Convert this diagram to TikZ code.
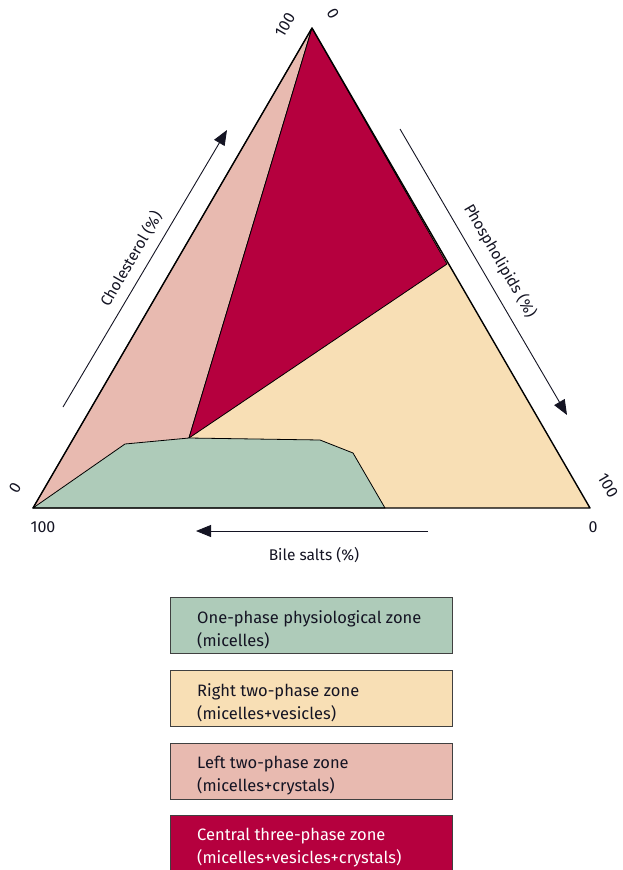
\documentclass[tikz,border=0pt]{standalone}
\usepackage{fontspec}
\setmainfont{Fira Sans}
\usetikzlibrary{arrows.meta}
\definecolor{zonegreen}{RGB}{174,203,185}
\definecolor{zonebeige}{RGB}{248,223,181}
\definecolor{zonepink}{RGB}{232,186,176}
\definecolor{zonered}{RGB}{181,0,62}
\definecolor{ink}{RGB}{20,20,35}
\begin{document}
\begin{tikzpicture}[x=1pt,y=-1pt,
  zone/.style={draw=black, line width=0.8pt, line join=round},
  axisarrow/.style={draw=ink, line width=0.9pt, -{Triangle[length=15pt,width=12pt]}},
  ticklabel/.style={font=\fontsize{16}{18}\selectfont, text=ink, inner sep=0pt},
  axislabel/.style={font=\fontsize{15.5}{18}\selectfont, text=ink, inner sep=0pt},
  legendbox/.style={draw=black!75, line width=0.8pt, anchor=north west,
    minimum width=282pt, minimum height=56pt, inner sep=0pt},
  legendtext/.style={anchor=west, align=left, inner sep=0pt,
    font=\fontsize{16.5}{23}\selectfont, text=ink}]
  \useasboundingbox (0,0) rectangle (623,870);

  % corners of the ternary diagram and the zone boundary points
  \coordinate (apex) at (312,28);
  \coordinate (bl) at (33,508);
  \coordinate (br) at (590,508);
  \coordinate (meet) at (189,438);
  \coordinate (edge) at (447,264);
  \coordinate (g1) at (125,444);
  \coordinate (g2) at (320,440);
  \coordinate (g3) at (353,453);
  \coordinate (g4) at (385,508);

  % zones
  \fill[zonebeige] (bl) -- (apex) -- (br) -- cycle;
  \path[zone, fill=zonepink] (bl) -- (apex) -- (meet) -- cycle;
  \path[zone, fill=zonered] (apex) -- (edge) -- (meet) -- cycle;
  \path[zone, fill=zonegreen] (bl) -- (g1) -- (meet) -- (g2) -- (g3) -- (g4) -- cycle;
  \draw[black, line width=1.4pt, line join=round] (bl) -- (apex) -- (br) -- cycle;

  % axis arrows
  \coordinate (chA) at (63,407);
  \coordinate (chB) at (227,130);
  \coordinate (phA) at (400,129);
  \coordinate (phB) at (567,415);
  \coordinate (bsA) at (428,531);
  \coordinate (bsB) at (196,531);
  \draw[axisarrow] (chA) -- (chB);
  \draw[axisarrow] (phA) -- (phB);
  \draw[axisarrow] (bsA) -- (bsB);

  % axis labels
  \node[axislabel, rotate=59.8] (chol) at (131,259) {Cholesterol (\%)};
  \node[axislabel, rotate=-59.8] (phos) at (500,261) {Phospholipids (\%)};
  \node[axislabel] (bile) at (314,555) {Bile salts (\%)};

  % scale ends
  \node[ticklabel, rotate=59.8] (t100a) at (285,25) {100};
  \node[ticklabel, rotate=-59.8] (t0a) at (333,14) {0};
  \node[ticklabel, rotate=59.8] (t0l) at (15,488) {0};
  \node[ticklabel] (t100l) at (43,527) {100};
  \node[ticklabel, rotate=-59.8] (t100r) at (608,486) {100};
  \node[ticklabel] (t0r) at (593,527) {0};

  % legend boxes
  \node[legendbox, fill=zonegreen] (lg1) at (170,597) {};
  \node[legendbox, fill=zonebeige] (lg2) at (170,670) {};
  \node[legendbox, fill=zonepink] (lg3) at (170,743) {};
  \node[legendbox, fill=zonered] (lg4) at (170,815) {};
  \node[legendtext] (lt1) at ([xshift=27pt,yshift=-4pt]lg1.west) {One-phase physiological zone\\(micelles)};
  \node[legendtext] (lt2) at ([xshift=27pt,yshift=-4pt]lg2.west) {Right two-phase zone\\(micelles+vesicles)};
  \node[legendtext] (lt3) at ([xshift=27pt,yshift=-4pt]lg3.west) {Left two-phase zone\\(micelles+crystals)};
  \node[legendtext, text=white] (lt4) at ([xshift=27pt,yshift=-4pt]lg4.west) {Central three-phase zone\\(micelles+vesicles+crystals)};
\end{tikzpicture}
\end{document}
